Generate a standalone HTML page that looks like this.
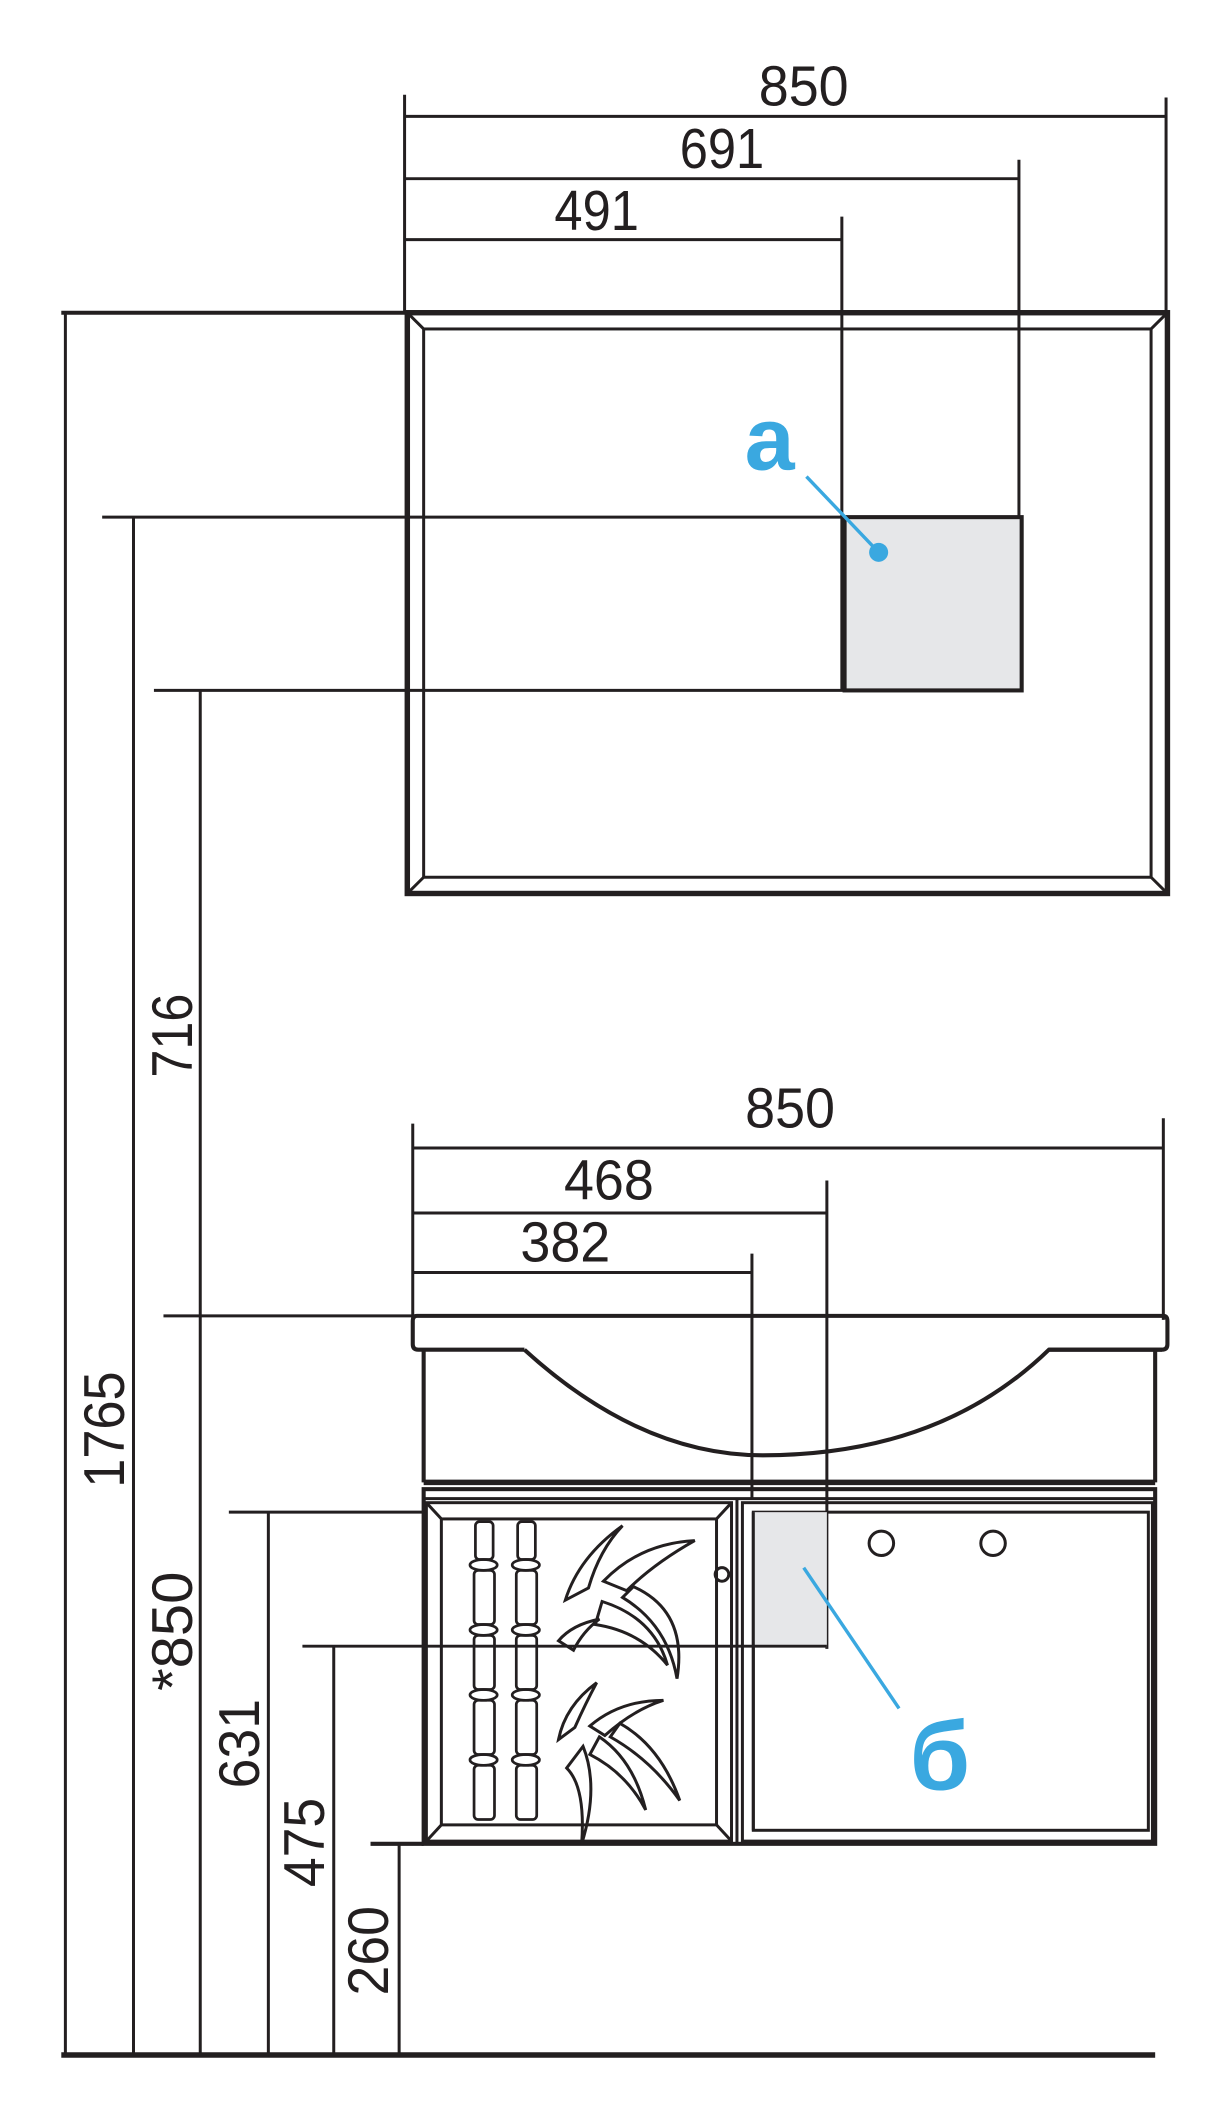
<!DOCTYPE html>
<html><head><meta charset="utf-8"><style>
html,body{margin:0;padding:0;background:#fff}
svg{display:block}
text{font-family:"Liberation Sans",sans-serif;fill:#231f20}
</style></head><body>
<svg width="1226" height="2120" viewBox="0 0 900 1566" preserveAspectRatio="none" xmlns="http://www.w3.org/2000/svg">
<g stroke="#231f20" fill="none" stroke-width="2.2">
<line x1="297" y1="70" x2="297" y2="232"/>
<line x1="856" y1="72" x2="856" y2="232"/>
<line x1="297" y1="86" x2="856" y2="86"/>
<line x1="297" y1="132" x2="748" y2="132"/>
<line x1="748" y1="118" x2="748" y2="382"/>
<line x1="297" y1="177" x2="618" y2="177"/>
<line x1="618" y1="160" x2="618" y2="510"/>
<rect x="299" y="231" width="558" height="429" stroke-width="4"/>
<rect x="311" y="243" width="534" height="405"/>
<line x1="299" y1="231" x2="311" y2="243"/><line x1="857" y1="231" x2="845" y2="243"/>
<line x1="299" y1="660" x2="311" y2="648"/><line x1="857" y1="660" x2="845" y2="648"/>
<rect x="620" y="382" width="130" height="128" fill="#e6e7e9" stroke-width="3"/>
<line x1="45" y1="231" x2="299" y2="231" stroke-width="3"/>
<line x1="48" y1="231" x2="48" y2="1518"/>
<line x1="75" y1="382" x2="620" y2="382"/>
<line x1="98" y1="382" x2="98" y2="1518"/>
<line x1="113" y1="510" x2="620" y2="510"/>
<line x1="147" y1="510" x2="147" y2="1518"/>
<line x1="303" y1="830" x2="303" y2="975"/>
<line x1="854" y1="826" x2="854" y2="975"/>
<line x1="303" y1="848" x2="854" y2="848"/>
<line x1="303" y1="896" x2="607" y2="896"/>
<line x1="607" y1="872" x2="607" y2="1218"/>
<line x1="303" y1="940" x2="552" y2="940"/>
<line x1="552" y1="926" x2="552" y2="1107"/>
<line x1="120" y1="972" x2="856" y2="972"/>
<path d="M306 972 H854 Q857 972 857 976 V993 Q857 997 853 997 H770 L770 997 M385 997 H307 Q303 997 303 993 V976 Q303 972 306 972" stroke-width="3"/>
<path d="M385 997 Q470 1075 560 1075 Q690 1075 770 997 H853" stroke-width="3"/>
<line x1="311" y1="997" x2="311" y2="1095" stroke-width="3"/>
<line x1="848" y1="997" x2="848" y2="1095" stroke-width="3"/>
<line x1="311" y1="1095" x2="848" y2="1095" stroke-width="4"/>
<rect x="311" y="1100" width="537" height="262" stroke-width="3"/>
<line x1="311" y1="1107" x2="848" y2="1107"/>
<rect x="313" y="1110" width="224" height="250"/>
<rect x="324" y="1122" width="202" height="226"/>
<line x1="313" y1="1110" x2="324" y2="1122"/><line x1="537" y1="1110" x2="526" y2="1122"/>
<line x1="313" y1="1360" x2="324" y2="1348"/><line x1="537" y1="1360" x2="526" y2="1348"/>
<line x1="541" y1="1107" x2="541" y2="1362"/>
<rect x="545" y="1110" width="301" height="250"/>
<rect x="553" y="1117" width="290" height="235"/>
<rect x="553" y="1117" width="54" height="100" fill="#e6e7e9" stroke="none"/>
<line x1="553" y1="1117" x2="553" y2="1352"/>
<circle cx="647" cy="1140" r="9"/><circle cx="729" cy="1140" r="9"/>
<circle cx="530" cy="1163" r="5"/>
<line x1="168" y1="1117" x2="311" y2="1117"/>
<line x1="197" y1="1117" x2="197" y2="1518"/>
<line x1="222" y1="1216" x2="607" y2="1216"/>
<line x1="245" y1="1216" x2="245" y2="1518"/>
<line x1="272" y1="1362" x2="311" y2="1362" stroke-width="3"/>
<line x1="293" y1="1362" x2="293" y2="1518"/>
<line x1="45" y1="1518" x2="848" y2="1518" stroke-width="4"/>
<g stroke-width="2">
<rect x="349" y="1124" width="13" height="28" rx="3"/><rect x="348" y="1160" width="15" height="40" rx="3"/>
<rect x="348" y="1208" width="15" height="40" rx="3"/><rect x="348" y="1256" width="15" height="40" rx="3"/>
<rect x="348" y="1304" width="15" height="40" rx="3"/>
<rect x="380" y="1124" width="13" height="28" rx="3"/><rect x="379" y="1160" width="15" height="40" rx="3"/>
<rect x="379" y="1208" width="15" height="40" rx="3"/><rect x="379" y="1256" width="15" height="40" rx="3"/>
<rect x="379" y="1304" width="15" height="40" rx="3"/>
<ellipse cx="355" cy="1156" rx="10" ry="4"/><ellipse cx="355" cy="1204" rx="10" ry="4"/><ellipse cx="355" cy="1252" rx="10" ry="4"/><ellipse cx="355" cy="1300" rx="10" ry="4"/>
<ellipse cx="386" cy="1156" rx="10" ry="4"/><ellipse cx="386" cy="1204" rx="10" ry="4"/><ellipse cx="386" cy="1252" rx="10" ry="4"/><ellipse cx="386" cy="1300" rx="10" ry="4"/>
</g>
<g stroke-width="2.2">
<path d="M457 1127 Q425 1150 415 1182 L432 1173 Q440 1145 457 1127 Z"/>
<path d="M510 1138 Q470 1140 443 1168 L460 1175 Q480 1155 510 1138 Z"/>
<path d="M465 1172 L457 1180 Q490 1200 497 1240 Q505 1190 465 1172 Z"/>
<path d="M442 1183 L437 1200 Q470 1205 490 1230 Q480 1195 442 1183 Z"/>
<path d="M440 1196 Q420 1200 410 1212 L421 1219 Q428 1205 440 1196 Z"/>
<path d="M438 1243 Q415 1260 410 1285 L422 1276 Q430 1258 438 1243 Z"/>
<path d="M487 1256 Q455 1256 433 1275 L444 1282 Q465 1263 487 1256 Z"/>
<path d="M455 1273 L448 1283 Q478 1300 499 1330 Q485 1290 455 1273 Z"/>
<path d="M440 1283 L433 1296 Q460 1310 474 1337 Q465 1300 440 1283 Z"/>
<path d="M428 1290 L416 1306 Q430 1320 427 1362 Q440 1320 428 1290 Z"/>
</g>
</g>
<g stroke="#3aa8e0" stroke-width="2.5">
<line x1="592" y1="352" x2="645" y2="408"/>
<line x1="590" y1="1158" x2="660" y2="1262"/>
</g>
<circle cx="645" cy="408" r="7" fill="#3aa8e0"/>
<text x="565" y="347" font-size="66" font-weight="bold" text-anchor="middle" style="fill:#3aa8e0">a</text>
<text x="690" y="1322" font-size="72" font-weight="bold" text-anchor="middle" style="fill:#3aa8e0">б</text>
<g font-size="42" text-anchor="middle">
<text x="590" y="78" textLength="66" lengthAdjust="spacingAndGlyphs">850</text>
<text x="530" y="124" textLength="62" lengthAdjust="spacingAndGlyphs">691</text>
<text x="438" y="170" textLength="62" lengthAdjust="spacingAndGlyphs">491</text>
<text x="580" y="833" textLength="66" lengthAdjust="spacingAndGlyphs">850</text>
<text x="447" y="886" textLength="66" lengthAdjust="spacingAndGlyphs">468</text>
<text x="415" y="932" textLength="66" lengthAdjust="spacingAndGlyphs">382</text>
<text transform="translate(141,765) rotate(-90)" textLength="62" lengthAdjust="spacingAndGlyphs">716</text>
<text transform="translate(91,1056) rotate(-90)" textLength="86" lengthAdjust="spacingAndGlyphs">1765</text>
<text transform="translate(141,1205) rotate(-90)" textLength="88" lengthAdjust="spacingAndGlyphs">*850</text>
<text transform="translate(190,1288) rotate(-90)" textLength="66" lengthAdjust="spacingAndGlyphs">631</text>
<text transform="translate(238,1361) rotate(-90)" textLength="66" lengthAdjust="spacingAndGlyphs">475</text>
<text transform="translate(285,1441) rotate(-90)" textLength="66" lengthAdjust="spacingAndGlyphs">260</text>
</g>
</svg>
</body></html>
